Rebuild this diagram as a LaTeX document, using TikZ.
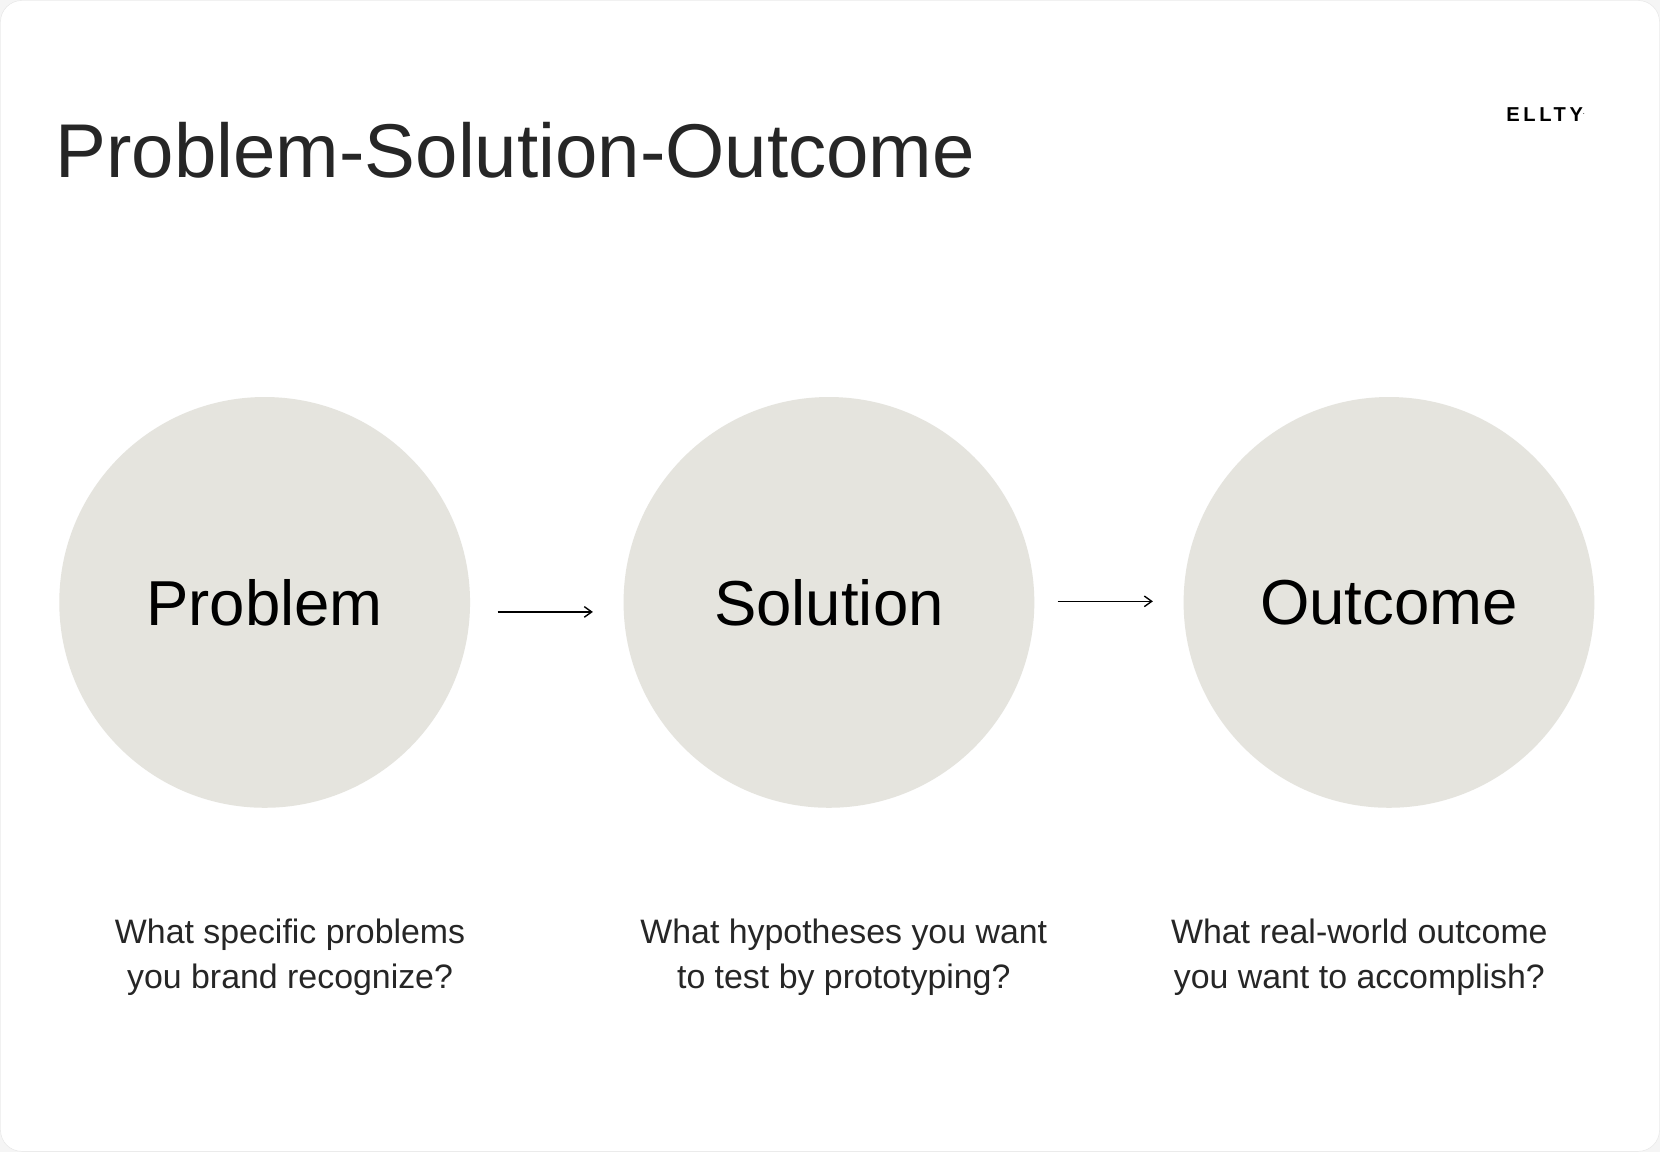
\documentclass[tikz,border=0pt]{standalone}
\usepackage{fontspec}
\setmainfont{Liberation Sans}
\usetikzlibrary{positioning,arrows.meta}
\definecolor{stone}{HTML}{E5E4DE}
\definecolor{ink}{HTML}{262626}
\tikzset{
stage/.style={circle,fill=stone,minimum size=388pt,inner sep=0pt,font=\fontsize{60}{66}\selectfont,text=black},
question/.style={align=center,text=ink,font=\fontsize{32}{42}\selectfont},
flow/.style={-{Straight Barb[length=7pt,width=10pt]},line width=1.3pt}}
\begin{document}
\begin{tikzpicture}[x=1pt,y=-1pt]
  \useasboundingbox (0,0) rectangle (1568,1088);
  \fill[gray!8] (0,0) rectangle (1568,1088);
  \draw[fill=white,draw=gray!20,rounded corners=20pt] (0.5,0.5) rectangle (1567.5,1087.5);
  % title and logo
  \node[anchor=base west,text=ink,font=\fontsize{72}{80}\selectfont] (title) at (49,168) {Problem-Solution-Outcome};
  \node[font=\bfseries\fontsize{19}{20}\selectfont\addfontfeature{LetterSpace=18}] (logo) at (1460,108) {ELLTY\textsuperscript{\tiny .}};
  % stages
  \node[stage] (problem) at (250,569) {Problem};
  \node[stage] (solution) at (783,569) {Solution};
  \node[stage] (outcome) at (1312,569) {Outcome};
  \coordinate (a1) at (470,578);
  \coordinate (a2) at (560,578);
  \coordinate (b1) at (999,568);
  \coordinate (b2) at (1089,568);
  \draw[flow] (a1) -- (a2);
  \draw[flow] (b1) -- (b2);
  % questions
  \node[question] (q1) at (274,904) {What specific problems\\you brand recognize?};
  \node[question] (q2) at (797,904) {What hypotheses you want\\to test by prototyping?};
  \node[question] (q3) at (1284,904) {What real-world outcome\\you want to accomplish?};
\end{tikzpicture}
\end{document}
